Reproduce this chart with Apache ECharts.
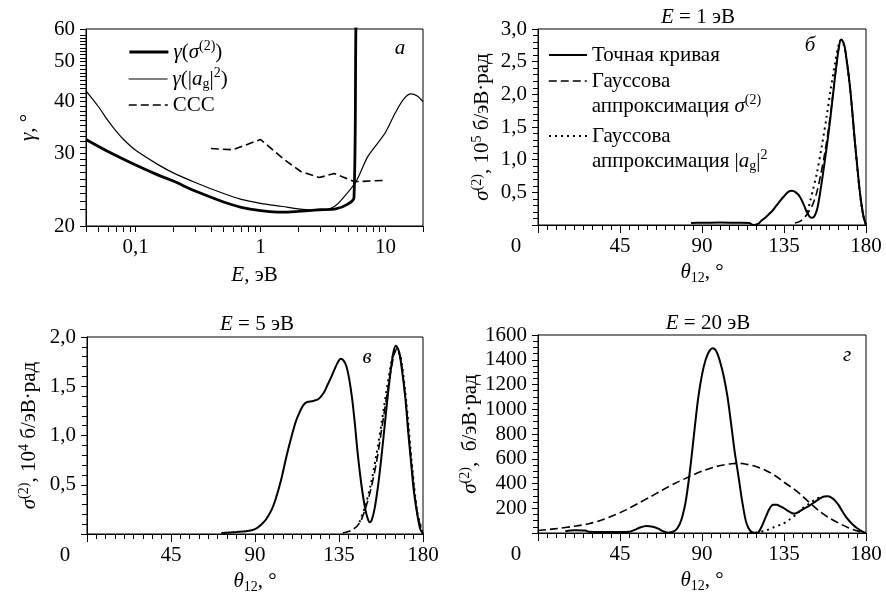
<!DOCTYPE html>
<html><head><meta charset="utf-8">
<script src="https://cdn.jsdelivr.net/npm/echarts@6/dist/echarts.min.js"></script>
<style>html,body{margin:0;padding:0;background:#fff}#c{width:886px;height:604px}</style>
</head><body><div id="c"></div>
<script>
// ---------- Panel а (log-log) ----------
const aThickE = [0.04, 0.06, 0.1, 0.15, 0.2, 0.3, 0.5, 0.7, 1, 1.5, 2, 3, 4, 5, 5.6, 5.8, 5.9];
const aThickG = [32.4, 30.3, 28.1, 26.6, 25.7, 24.3, 22.9, 22.2, 21.8, 21.6, 21.7, 21.9, 22.0, 22.6, 23.4, 60, 75];
const aThinE = [0.04, 0.05, 0.06, 0.07, 0.08, 0.1, 0.15, 0.2, 0.3, 0.5, 0.7, 1, 1.5, 2, 3, 3.9, 4.7, 5.8, 7.2, 8.5, 10, 12, 14, 16, 18, 20];
const aThinG = [42.5, 39, 36, 33.9, 32.4, 30.5, 28.2, 26.9, 25.5, 24.0, 23.2, 22.7, 22.3, 22.0, 21.8, 22.3, 23.6, 25.6, 29.4, 31.5, 33.7, 37.6, 40.6, 41.8, 41.3, 40.0];
const aCccE = [0.4, 0.6, 1, 1.54, 2.1, 2.95, 3.9, 5.65, 9.85];
const aCccG = [30.8, 30.6, 32.4, 29.0, 27.1, 26.2, 26.8, 25.6, 25.8];
const aXLabels = [0.1, 1, 10];
const aXTicks = [0.04, 0.05, 0.06, 0.07, 0.08, 0.09, 0.1, 0.2, 0.3, 0.4, 0.5, 0.6, 0.7, 0.8, 0.9, 1, 2, 3, 4, 5, 6, 7, 8, 9, 10, 20];
const aYLabels = [20, 30, 40, 50, 60];
const aYTicks = [20,21,22,23,24,25,26,27,28,29,30,31,32,33,34,35,36,37,38,39,40,41,42,43,44,45,46,47,48,49,50,51,52,53,54,55,56,57,58,59,60];

// ---------- Panel б (E = 1 эВ), units 1e5 ----------
const bExactT = [84, 90, 100, 110, 116, 118, 121, 122, 125, 129, 132, 135, 137.5, 139.3, 141.5, 143.8, 146, 147.5, 149.3, 150.5, 152, 153.5, 154.8, 157.5, 160.3, 163, 165, 166.3, 167.5, 168.5, 171.2, 174, 176.7, 178.5, 180];
const bExactV = [0.03, 0.035, 0.04, 0.035, 0.03, 0, 0.02, 0.05, 0.12, 0.23, 0.34, 0.44, 0.51, 0.525, 0.5, 0.43, 0.3, 0.2, 0.12, 0.11, 0.15, 0.28, 0.49, 1.0, 1.6, 2.27, 2.7, 2.84, 2.8, 2.7, 2.12, 1.25, 0.49, 0.15, 0];
const bGaussT = [141, 144, 147, 149, 151, 153, 155, 157.5, 160.3, 163, 165, 166.3, 167.5, 168.5, 171.2, 174, 176.7, 178.5, 180];
const bGaussV = [0.03, 0.06, 0.14, 0.22, 0.33, 0.5, 0.75, 1.12, 1.65, 2.27, 2.7, 2.84, 2.8, 2.7, 2.12, 1.25, 0.49, 0.15, 0];
const bAgT = [148, 149.3, 151, 153, 155.7, 158.4, 160.3, 163, 165, 166.3, 167.5, 168.5, 171.2, 174, 176.7, 178.5, 180];
const bAgV = [0.2, 0.36, 0.55, 0.79, 1.2, 1.66, 2.02, 2.48, 2.76, 2.83, 2.78, 2.68, 2.1, 1.23, 0.47, 0.14, 0];

// ---------- Panel в (E = 5 эВ), units 1e4 ----------
const cExactT = [72, 80, 86, 90, 93, 96, 99, 101, 104, 107, 110, 112, 114, 116, 118, 121, 124, 127, 129, 131, 134, 136, 137.5, 139, 140.5, 142, 143.5, 145, 147, 149, 150.5, 151.5, 152.5, 154, 156, 158, 160, 162, 164, 165.5, 167, 168.5, 170.5, 172, 173.5, 175, 176.5, 178.5, 180];
const cExactV = [0.01, 0.02, 0.03, 0.05, 0.09, 0.15, 0.25, 0.35, 0.55, 0.8, 1.02, 1.15, 1.24, 1.31, 1.34, 1.35, 1.37, 1.44, 1.52, 1.6, 1.73, 1.78, 1.76, 1.7, 1.57, 1.38, 1.12, 0.82, 0.5, 0.26, 0.15, 0.12, 0.14, 0.25, 0.5, 0.83, 1.2, 1.55, 1.83, 1.91, 1.86, 1.7, 1.39, 1.05, 0.75, 0.45, 0.25, 0.05, 0];
const cGaussT = [137, 142, 146, 149, 152, 155, 158, 161, 164, 166, 168, 171, 174, 177, 180];
const cGaussV = [0.01, 0.04, 0.11, 0.25, 0.45, 0.72, 1.08, 1.45, 1.78, 1.88, 1.78, 1.3, 0.68, 0.2, 0];
const cAgT = [146, 149, 152, 155, 158, 161, 164, 166, 168, 171, 174, 177, 180];
const cAgV = [0.12, 0.28, 0.5, 0.8, 1.15, 1.52, 1.82, 1.87, 1.8, 1.35, 0.72, 0.22, 0];

// ---------- Panel г (E = 20 эВ) ----------
const dExactT = [15, 20, 26, 28, 35, 45, 50, 53, 56, 59.5, 63, 66, 69, 71.5, 74, 76, 78, 79.5, 81, 82.5, 84, 86, 88, 90, 92, 94, 96, 98, 100, 102, 104, 106, 108, 110, 112, 114, 115.5, 117, 118, 120, 121, 123, 125, 127, 129, 131, 133, 135, 137, 139.5, 141, 143, 146, 149, 152, 155, 157, 159, 161, 163, 165, 167, 169, 171, 173, 175, 177, 179, 180];
const dExactV = [15, 22, 20, 10, 8, 8, 10, 25, 45, 57, 50, 35, 12, 3, 10, 30, 80, 150, 250, 400, 580, 850, 1100, 1280, 1400, 1470, 1492, 1465, 1380, 1260, 1100, 880, 650, 460, 260, 100, 40, 10, 5, 0, 5, 60, 130, 195, 228, 228, 215, 200, 180, 160, 158, 170, 197, 222, 252, 282, 295, 296, 285, 262, 225, 175, 130, 95, 65, 40, 20, 5, 0];
const dGaussT = [0, 10, 20, 28, 35, 42, 48, 55, 62, 68, 75, 83, 90, 96, 101, 106, 109, 113, 120, 125, 130, 135, 140, 145, 149, 155, 160, 165, 170, 175, 178];
const dGaussV = [20, 35, 55, 75, 105, 145, 185, 240, 295, 345, 400, 455, 500, 530, 548, 560, 563, 560, 535, 505, 465, 410, 360, 300, 245, 170, 120, 80, 45, 18, 8];
const dAgT = [116, 120, 125, 129, 134, 138, 142, 145, 149, 153, 156];
const dAgV = [0, 5, 20, 44, 72, 108, 155, 197, 238, 278, 292];

// ---------- helpers ----------
const zip = (xs, ys) => xs.map((x, i) => [x, ys[i]]);
const F = '"Liberation Serif","Times New Roman",serif';
const FS = 21;
const LH = 25;
const rich = {
  i: {fontFamily: F, fontSize: FS, fontStyle: 'italic', color: '#000'},
  sup: {fontFamily: F, fontSize: 14, verticalAlign: 'top', color: '#000'},
  sub: {fontFamily: F, fontSize: 14, verticalAlign: 'bottom', color: '#000'},
  z: {fontFamily: F, fontSize: FS, color: '#000', padding: [0, 44, 0, 0]}
};
const txt = {fontFamily: F, fontSize: FS, color: '#000', lineHeight: LH, rich: rich};
const black = {color: '#000', width: 1};

function gridOpt(l, t, w, h) {
  return {left: l, top: t, width: w, height: h, show: true, borderColor: '#000', borderWidth: 1,
          containLabel: false, outerBoundsMode: 'none'};
}
// Ticks follow the label positions; minor positions get a blank label.
function logAxis(grid, min, max, labels, ticks, name, nameGap, isY) {
  const isMajor = v => labels.some(l => Math.abs(l - v) / l < 1e-6);
  const fmt = v => (isMajor(v) ? String(Math.round(v * 1000) / 1000).replace('.', ',') : ' ');
  return {type: 'log', logBase: 10, gridIndex: grid, min: min, max: max,
    position: isY ? 'left' : 'bottom',
    axisLine: {show: true, onZero: false, lineStyle: black},
    axisTick: {show: true, inside: false, length: 6, customValues: ticks, lineStyle: black},
    minorTick: {show: false},
    axisLabel: {show: true, customValues: ticks, formatter: fmt, color: '#000', fontFamily: F, fontSize: FS, margin: 11,
      interval: 0, showMinLabel: true, showMaxLabel: true, hideOverlap: false},
    splitLine: {show: false},
    name: name, nameLocation: 'middle', nameGap: nameGap, nameRotate: isY ? 90 : 0,
    nameMoveOverlap: false,
    nameTextStyle: txt};
}
function degAxis(grid) {
  return {type: 'value', gridIndex: grid, min: 0, max: 180, interval: 45,
    axisLine: {show: true, onZero: false, lineStyle: black},
    axisTick: {show: true, inside: false, length: 8, lineStyle: black},
    minorTick: {show: true, splitNumber: 9, length: 5, lineStyle: black},
    axisLabel: {color: '#000', fontFamily: F, fontSize: FS, margin: 11, rich: rich,
      formatter: v => (v === 0 ? '{z|0}' : String(v))},
    splitLine: {show: false},
    name: '{i|θ}{sub|12}, °', nameLocation: 'middle', nameGap: 35, nameMoveOverlap: false,
    nameTextStyle: txt};
}
function valAxis(grid, max, interval, minorSplit, fmt, name, nameGap) {
  return {type: 'value', gridIndex: grid, min: 0, max: max, interval: interval,
    axisLine: {show: true, onZero: false, lineStyle: black},
    axisTick: {show: true, inside: false, length: 6, lineStyle: black},
    minorTick: {show: true, splitNumber: minorSplit, length: 5, lineStyle: black},
    axisLabel: {color: '#000', fontFamily: F, fontSize: FS, margin: 11, formatter: fmt},
    splitLine: {show: false},
    name: name, nameLocation: 'middle', nameGap: nameGap, nameRotate: 90, nameMoveOverlap: false,
    nameTextStyle: txt};
}
const comma1 = v => (v === 0 ? '' : v.toFixed(1).replace('.', ','));
const plainInt = v => (v === 0 ? '' : String(v));

function line(name, xi, yi, data, width, type, smooth) {
  return {type: 'line', name: name, xAxisIndex: xi, yAxisIndex: yi, data: data,
    symbol: 'none', showSymbol: false, smooth: smooth, clip: true, silent: true,
    lineStyle: {color: '#000', width: width, type: type}, itemStyle: {color: '#000'}};
}
const DASH = [8, 4];
const DOT = [2, 4];

const names = {
  aThick: 'γ(σ(2))', aThin: 'γ(|ag|2)', aCcc: 'CCC',
  bExact: 'Точная кривая', bGauss: 'Гауссова аппроксимация σ(2)', bAg: 'Гауссова аппроксимация |ag|2'
};
const legendText = {};
legendText[names.aThick] = '{i|γ}({i|σ}{sup|(2)})';
legendText[names.aThin] = '{i|γ}(|{i|a}{sub|g}|{sup|2})';
legendText[names.aCcc] = 'CCC';
legendText[names.bExact] = 'Точная кривая';
legendText[names.bGauss] = 'Гауссова\nаппроксимация {i|σ}{sup|(2)}';
legendText[names.bAg] = 'Гауссова\nаппроксимация |{i|a}{sub|g}|{sup|2}';

function legendOpt(left, top, item, itemWidth, lw) {
  return {left: left, top: top, orient: 'vertical', padding: 0, itemGap: 0,
    itemWidth: itemWidth, itemHeight: 14, selectedMode: false, data: [item],
    formatter: n => legendText[n], textStyle: txt,
    lineStyle: {width: lw},
    itemStyle: {color: 'transparent', borderColor: 'transparent', borderWidth: 0, opacity: 0}};
}
const twoLine = {padding: [LH, 0, 0, 0]};

const titleStyle = t => ({text: t, rich: rich, font: FS + 'px ' + F, fill: '#000', align: 'center', verticalAlign: 'middle'});
const letterStyle = t => ({text: t, font: 'italic 21px ' + F, fill: '#000', align: 'center', verticalAlign: 'middle'});

const option = {
  backgroundColor: '#fff',
  animation: false,
  grid: [gridOpt(86, 29, 337, 197), gridOpt(538, 29, 328, 196), gridOpt(87, 337, 336, 197), gridOpt(538, 335, 328, 198)],
  xAxis: [
    logAxis(0, 0.04, 20, aXLabels, aXTicks, '{i|E}, эВ', 37, false),
    degAxis(1), degAxis(2), degAxis(3)
  ],
  yAxis: [
    logAxis(0, 20, 60, aYLabels, aYTicks, '{i|γ}, °', 45, true),
    valAxis(1, 3, 0.5, 5, comma1, '{i|σ}{sup|(2)}, 10{sup|5} б/эВ·рад', 43),
    valAxis(2, 2, 0.5, 5, comma1, '{i|σ}{sup|(2)}, 10{sup|4} б/эВ·рад', 45),
    valAxis(3, 1600, 200, 4, plainInt, '{i|σ}{sup|(2)},  б/эВ·рад', 55)
  ],
  legend: [
    legendOpt(128, 39.5, names.aThick, 39, 2.8),
    legendOpt(128, 66.5, names.aThin, 39, 1.2),
    legendOpt(128, 92.5, names.aCcc, 39, 1.6),
    legendOpt(548, 42.5, names.bExact, 38, 2),
    legendOpt(548, 43.5, {name: names.bGauss, textStyle: twoLine}, 38, 1.6),
    legendOpt(548, 98.5, {name: names.bAg, textStyle: twoLine}, 38, 2)
  ],
  graphic: [
    {type: 'text', x: 698, y: 17, style: titleStyle('{i|E} = 1 эВ')},
    {type: 'text', x: 257, y: 324, style: titleStyle('{i|E} = 5 эВ')},
    {type: 'text', x: 708, y: 323, style: titleStyle('{i|E} = 20 эВ')},
    {type: 'text', x: 400, y: 48, style: letterStyle('а')},
    {type: 'text', x: 810, y: 45, style: letterStyle('б')},
    {type: 'text', x: 367, y: 357, style: letterStyle('в')},
    {type: 'text', x: 847, y: 355, style: letterStyle('г')}
  ],
  series: [
    line(names.aThick, 0, 0, zip(aThickE, aThickG), 2.8, 'solid', 0.3),
    line(names.aThin, 0, 0, zip(aThinE, aThinG), 1.2, 'solid', 0.3),
    line(names.aCcc, 0, 0, zip(aCccE, aCccG), 1.6, DASH, false),
    line(names.bExact, 1, 1, zip(bExactT, bExactV), 2, 'solid', 0.3),
    line(names.bGauss, 1, 1, zip(bGaussT, bGaussV), 1.6, DASH, 0.3),
    line(names.bAg, 1, 1, zip(bAgT, bAgV), 2, DOT, 0.3),
    line('в: точная', 2, 2, zip(cExactT, cExactV), 2, 'solid', 0.3),
    line('в: гаусс σ', 2, 2, zip(cGaussT, cGaussV), 1.6, DASH, 0.3),
    line('в: гаусс a', 2, 2, zip(cAgT, cAgV), 2, DOT, 0.3),
    line('г: точная', 3, 3, zip(dExactT, dExactV), 2, 'solid', 0.3),
    line('г: гаусс σ', 3, 3, zip(dGaussT, dGaussV), 1.6, DASH, 0.3),
    line('г: гаусс a', 3, 3, zip(dAgT, dAgV), 2, DOT, 0.3)
  ]
};
const chart = echarts.init(document.getElementById('c'), null, {renderer: 'canvas'});
chart.setOption(option);
</script></body></html>
